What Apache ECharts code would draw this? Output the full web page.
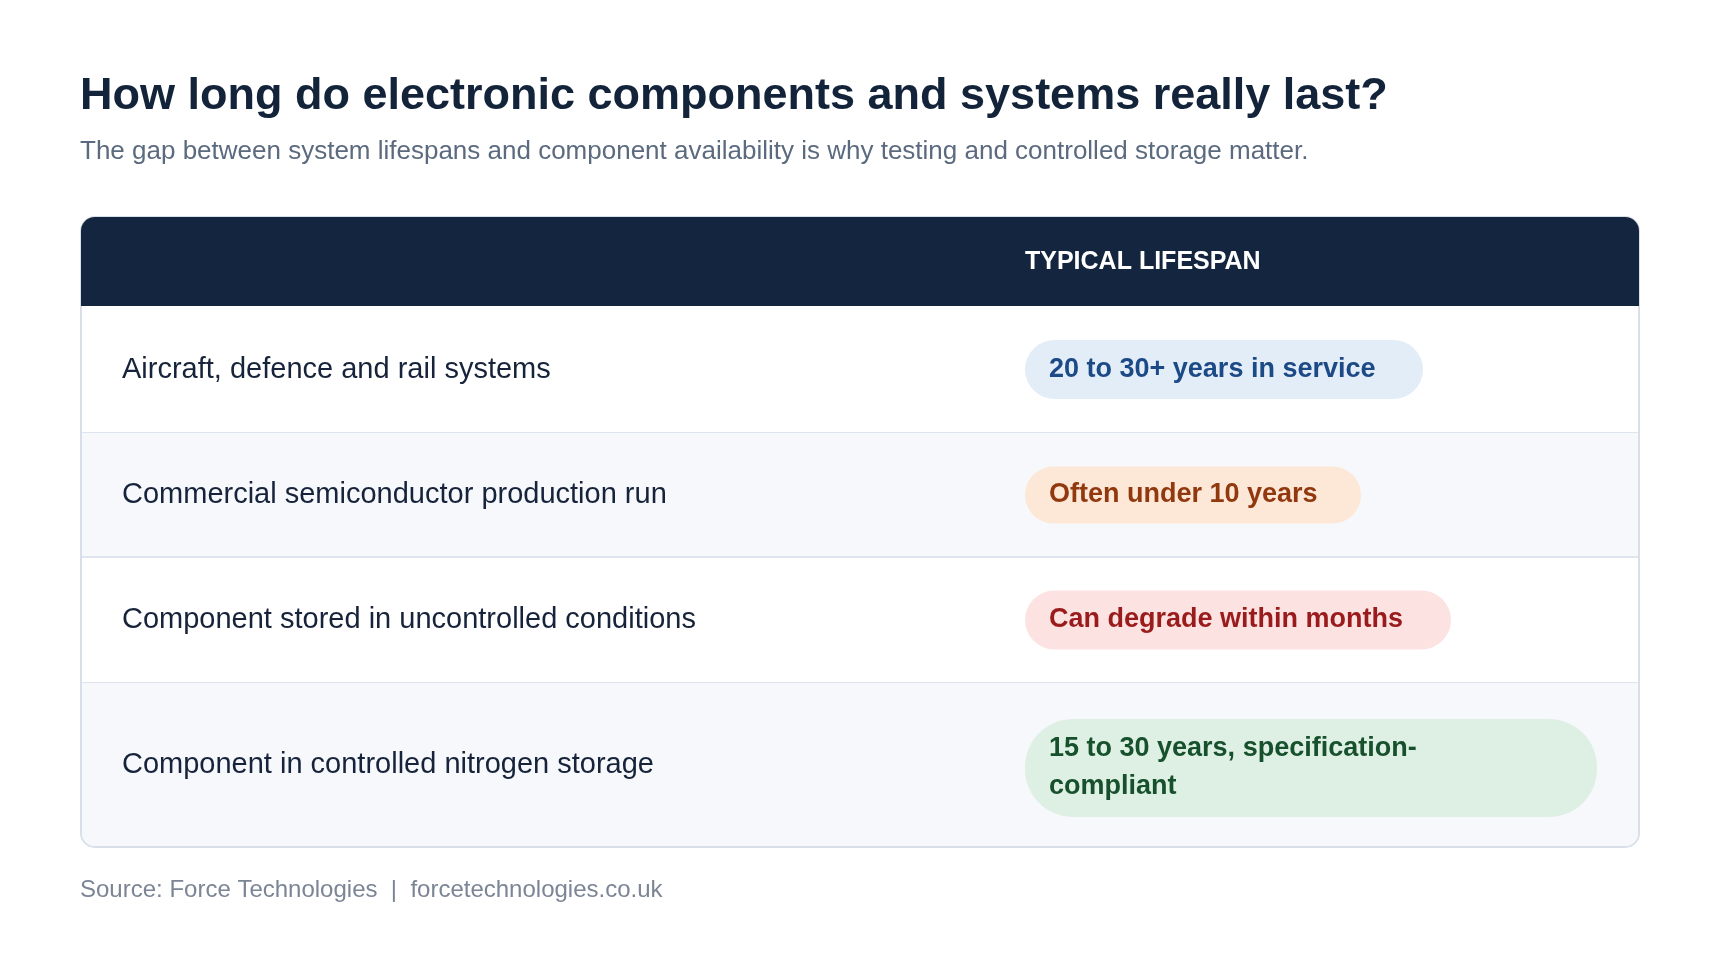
<!DOCTYPE html>
<html lang="en">
<head>
    <meta charset="UTF-8">
    <title>Component lifespans</title>
    <style>
        html,body{ height: 100%; }
        body{ margin: 0; padding: 0; background: #fff; }
        #chart{ width: 1720px; height: 966px; }
    </style>
</head>
<body>
    <div id="chart"></div>
</body>
</html>
<script src="https://cdn.jsdelivr.net/npm/echarts@6/dist/echarts.min.js"></script>
<script>
    var titleText = 'How long do electronic components and systems really last?';
    var subtitleText = 'The gap between system lifespans and component availability is why testing and controlled storage matter.';
    var headerText = 'TYPICAL LIFESPAN';
    var rowLabels = [
        'Aircraft, defence and rail systems',
        'Commercial semiconductor production run',
        'Component stored in uncontrolled conditions',
        'Component in controlled nitrogen storage'
    ];
    var lifespans = [
        '20 to 30+ years in service',
        'Often under 10 years',
        'Can degrade within months',
        '15 to 30 years, specification-\ncompliant'
    ];
    var sourceText = 'Source: Force Technologies  |  forcetechnologies.co.uk';

    // layout
    var font = 'Liberation Sans, Arial, sans-serif';
    var tblX = 81, tblW = 1558, tblTop = 217, tblBottom = 847, headBottom = 306;
    var rowEdges = [306, 433, 557, 683, 847];
    var pillX = 1025, pillRight = [1423, 1361, 1451, 1597], pillH = [59, 57, 59, 98];
    var pillBg = ['#e3edf8', '#fde8d7', '#fde2e2', '#ddf0e3'];
    var pillFg = ['#1b4a87', '#92380f', '#991b1b', '#17502c'];

    var els = [];
    els.push({ type: 'text', left: 80, top: 74, style: { text: titleText, font: 'bold 45px ' + font, fill: '#13233a' } });
    els.push({ type: 'text', left: 80, top: 139, style: { text: subtitleText, font: '26px ' + font, fill: '#5b6a7e' } });

    // table frame
    els.push({ type: 'rect', shape: { x: tblX, y: tblTop, width: tblW, height: tblBottom - tblTop, r: 14 },
        style: { fill: '#fff', stroke: '#d8dfe9', lineWidth: 2 } });
    rowLabels.forEach(function (lab, i) {
        var y0 = rowEdges[i], y1 = rowEdges[i + 1], cy = (y0 + y1) / 2;
        var last = i === rowLabels.length - 1;
        if (i % 2 === 1) {
            els.push({ type: 'rect', shape: { x: tblX + 1, y: y0, width: tblW - 2, height: y1 - y0 - 1, r: last ? [0, 0, 13, 13] : 0 },
                style: { fill: '#f6f8fb' } });
        }
        if (!last) {
            els.push({ type: 'line', shape: { x1: tblX + 1, y1: y1, x2: tblX + tblW - 1, y2: y1 }, style: { stroke: '#dfe5ee', lineWidth: 2 } });
        }
        els.push({ type: 'text', x: 122, y: cy, style: { text: lab, font: '29px ' + font, fill: '#16233a', verticalAlign: 'middle' } });
        var h = pillH[i];
        els.push({ type: 'rect', shape: { x: pillX, y: cy - h / 2 + (last ? 3 : 0), width: pillRight[i] - pillX, height: h, r: h / 2 > 30 ? 48 : h / 2 },
            style: { fill: pillBg[i] } });
        els.push({ type: 'text', x: 1049, y: cy + (last ? 3 : 0), style: { text: lifespans[i], font: 'bold 27px ' + font, fill: pillFg[i],
            verticalAlign: 'middle', lineHeight: 38 } });
    });
    els.push({ type: 'rect', shape: { x: tblX, y: tblTop, width: tblW, height: headBottom - tblTop, r: [14, 14, 0, 0] },
        style: { fill: '#13253f' } });
    els.push({ type: 'text', x: 1025, y: 262, style: { text: headerText, font: 'bold 25px ' + font, fill: '#fff', verticalAlign: 'middle' } });
    els.push({ type: 'text', left: 80, top: 878, style: { text: sourceText, font: '24px ' + font, fill: '#7b8595' } });

    var myChart = echarts.init(document.getElementById('chart'));
    myChart.setOption({ animation: false, graphic: { elements: els } });
</script>
